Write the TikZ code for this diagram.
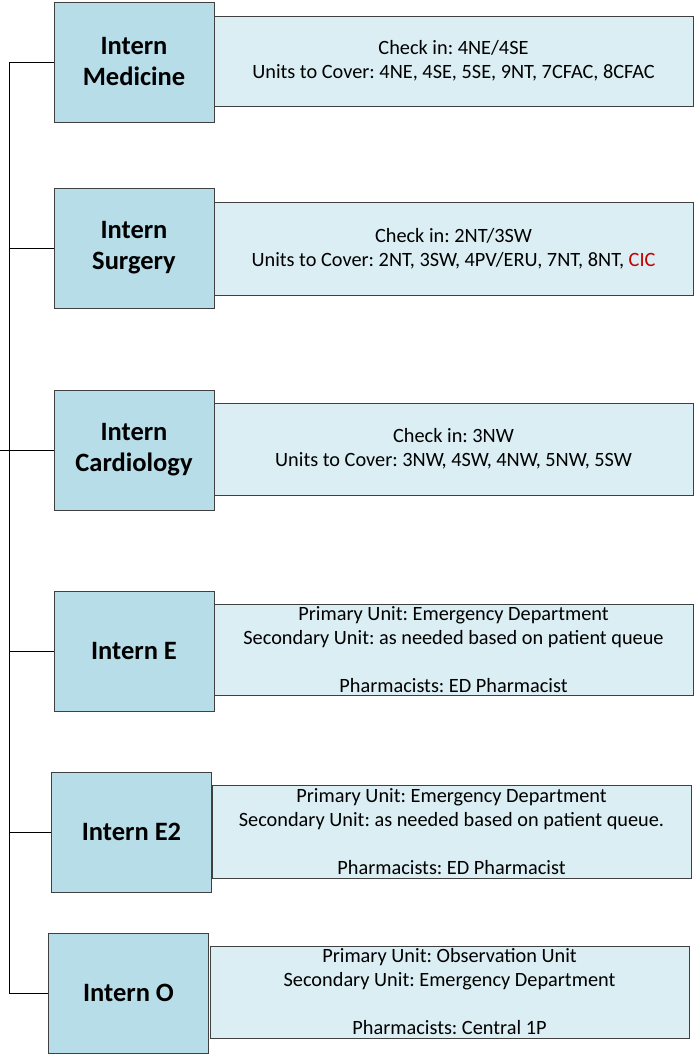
\documentclass[tikz,border=0pt]{standalone}
\usepackage{fontspec}
\setmainfont{Carlito}
\usetikzlibrary{calc}
\definecolor{internfill}{HTML}{B7DDE8}
\definecolor{coverfill}{HTML}{DAEEF3}
\definecolor{linegray}{HTML}{404040}
\definecolor{cicred}{HTML}{C00000}
\tikzset{
  intern/.style={draw=linegray, line width=0.9pt, fill=internfill, inner sep=0pt,
    minimum width=160pt, minimum height=120pt, align=center,
    font=\fontsize{26.5}{31}\selectfont\bfseries},
  cover/.style={draw=linegray, line width=0.9pt, fill=coverfill, inner sep=0pt,
    minimum width=479pt, align=center, font=\fontsize{20.3}{24}\selectfont\frenchspacing},
  link/.style={draw=black, line width=0.8pt}
}

\begin{document}
\begin{tikzpicture}[x=1pt, y=-1pt]
			%%%%% START %%%%%
			\useasboundingbox (0, 0) rectangle (698, 1057);
			
			\node[cover, minimum height=90pt] (covmed) at (453.5, 61) {Check in: 4NE/4SE\\Units to Cover: 4NE, 4SE, 5SE, 9NT, 7CFAC, 8CFAC};
			\node[intern] (med) at (134, 62) {Intern\\Medicine};
			
			\node[cover, minimum height=93pt] (covsurg) at (453.5, 248.5) {Check in: 2NT/3SW\\Units to Cover: 2NT, 3SW, 4PV/ERU, 7NT, 8NT, \textcolor{cicred}{CIC}};
			\node[intern] (surg) at (134, 248) {Intern\\Surgery};
			
			\node[cover, minimum height=92pt] (covcard) at (453.5, 449) {Check in: 3NW\\Units to Cover: 3NW, 4SW, 4NW, 5NW, 5SW};
			\node[intern] (card) at (134, 450) {Intern\\Cardiology};
			
			\node[cover, minimum height=91pt] (cove) at (453.5, 650) {Primary Unit: Emergency Department\\Secondary Unit: as needed based on patient queue\\[24pt]Pharmacists: ED Pharmacist};
			\node[intern] (e) at (134, 651) {Intern E};
			
			\node[cover, minimum height=93pt] (cove2) at (451.5, 831.5) {Primary Unit: Emergency Department\\Secondary Unit: as needed based on patient queue.\\[24pt]Pharmacists: ED Pharmacist};
			\node[intern] (e2) at (131.5, 832) {Intern E2};
			
			\node[cover, minimum height=92pt] (covo) at (449.5, 992) {Primary Unit: Observation Unit\\Secondary Unit: Emergency Department\\[24pt]Pharmacists: Central 1P};
			\node[intern] (o) at (128.5, 993) {Intern O};
			
			% bracket on the left
			\coordinate (spine) at (9, 0);
			\coordinate (root) at (0, 450);
			\draw[link] (spine |- med.west) -- (spine |- o.west);
			\foreach \lbl in {med, surg, e, e2, o}
				\draw[link] (spine |- \lbl.west) -- (\lbl.west);
			\draw[link] (root) -- (card.west);
			
			%%%%% END %%%%%
\end{tikzpicture}
\end{document}
